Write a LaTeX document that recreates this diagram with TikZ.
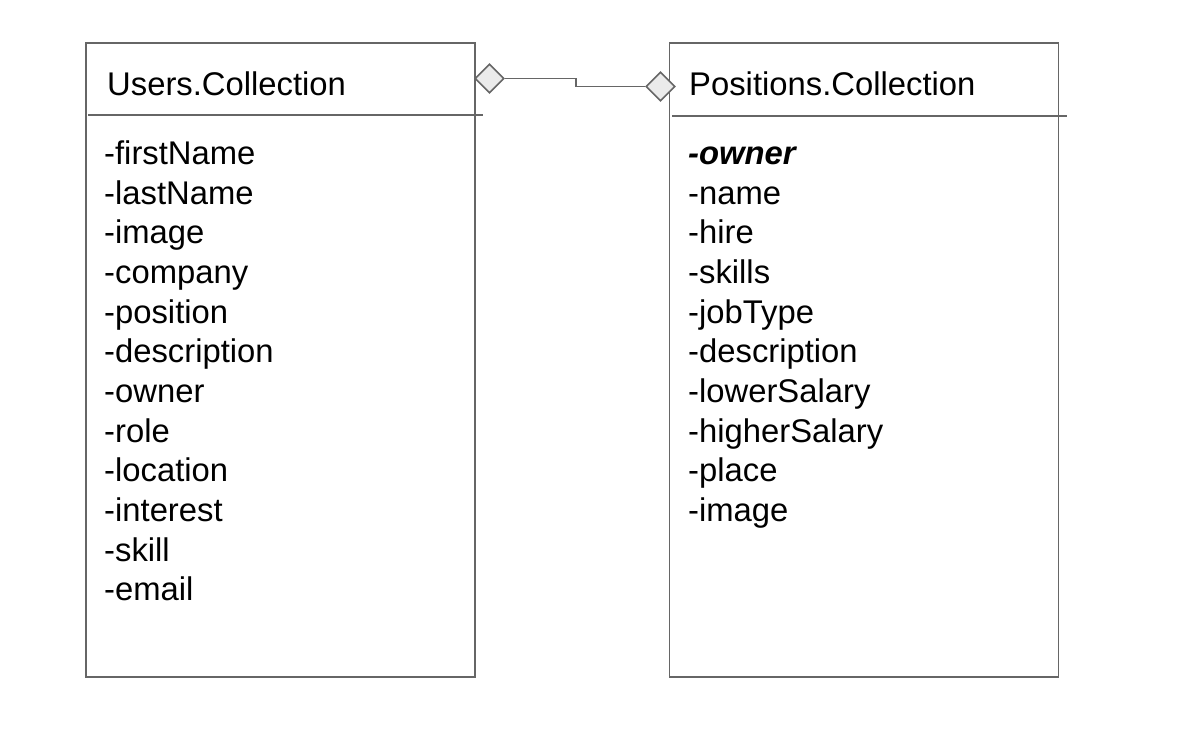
\documentclass[tikz,border=0pt]{standalone}
\usepackage{fontspec}
\setmainfont{Liberation Sans}
\usetikzlibrary{shapes.geometric}
\definecolor{edge}{HTML}{666666}
\definecolor{dfill}{HTML}{EBEBEB}
\begin{document}
\begin{tikzpicture}[x=1pt,y=-1pt,
  classbox/.style={draw=edge,line width=1.8pt,minimum width=389pt,minimum height=634pt,inner sep=0pt},
  divider/.style={draw=edge,line width=1.5pt},
  agg/.style={shape=diamond,draw=edge,fill=dfill,line width=1.6pt,inner sep=0pt,minimum width=29pt,minimum height=29pt},
  link/.style={draw=edge,line width=1.6pt},
  lbl/.style={anchor=base west,inner sep=0pt,font=\fontsize{32.8}{39}\selectfont}]
\useasboundingbox (0,0) rectangle (1181,738);
\node[classbox] (users) at (280.5,360) {};
\node[classbox] (positions) at (864,360) {};
\draw[divider] (88,115) -- (483,115);
\draw[divider] (672,116) -- (1067,116);
\node[lbl] (utitle) at (107,96) {Users.Collection};
\node[lbl] (ptitle) at (689,96) {Positions.Collection};
\foreach \t [count=\i from 0] in {firstName,lastName,image,company,position,description,owner,role,location,interest,skill,email}
  \node[lbl] (u\i) at (104,{164.5+39.65*\i}) {-\t};
\node[lbl,font=\fontsize{32.8}{39}\selectfont\bfseries\itshape] (p0) at (688,164.5) {-owner};
\foreach \t [count=\i from 1] in {name,hire,skills,jobType,description,lowerSalary,higherSalary,place,image}
  \node[lbl] (p\i) at (688,{164.5+39.65*\i}) {-\t};
\node[agg] (d1) at (489.5,78.5) {};
\node[agg] (d2) at (660.5,86.5) {};
\draw[link] (d1.east) -- ++(71,0) |- (d2.west);
\end{tikzpicture}
\end{document}
